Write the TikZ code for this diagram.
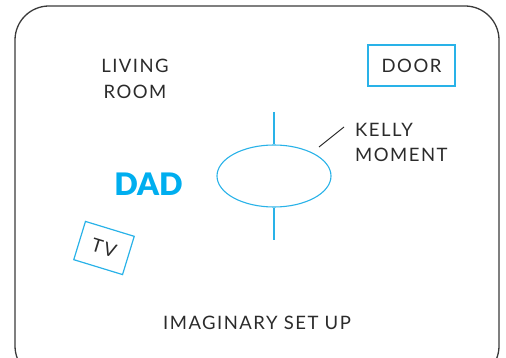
\documentclass[tikz,border=0pt]{standalone}
\usepackage{fontspec}
\usetikzlibrary{shapes.geometric}
\setmainfont{Lato}
\newfontfamily\labelfont[LetterSpace=8]{Lato}
\newfontfamily\dadfont{Lato Black}
\definecolor{cyanline}{HTML}{29B2E8}
\definecolor{dadblue}{HTML}{00AEEF}
\definecolor{framegray}{HTML}{3A3A3A}
\definecolor{textgray}{HTML}{2B2B2B}
\begin{document}
\begin{tikzpicture}[x=1pt,y=-1pt,
  lbl/.style={font=\labelfont\fontsize{18.5}{25.5}\selectfont, text=textgray, align=center, inner sep=0pt},
  bluebox/.style={draw=cyanline, line width=1.2pt},
  blueline/.style={draw=cyanline, line width=1.1pt}]
\useasboundingbox (0,0) rectangle (506,358);
\draw[framegray, line width=1.3pt, rounded corners=34pt] (15,6) rectangle (499,380);
\node[lbl] (living) at (135,79) {LIVING\\ROOM};
\node[lbl, bluebox, minimum width=87pt, minimum height=41pt] (door) at (411.5,65.5) {DOOR};
\node[lbl, align=left, anchor=west] (kelly) at (355,142.5) {KELLY\\MOMENT};
\coordinate (slashA) at (319,147);
\coordinate (slashB) at (344,127);
\draw[textgray, line width=1pt] (slashA) -- (slashB);
\node[draw=cyanline, line width=1.1pt, ellipse, minimum width=114pt, minimum height=62pt, inner sep=0pt] (table) at (274,176) {};
\coordinate (topend) at (274,112);
\coordinate (botend) at (274,240);
\draw[blueline] (topend) -- (table.north);
\draw[blueline] (table.south) -- (botend);
\node[font=\dadfont\fontsize{31}{31}\selectfont, text=dadblue, inner sep=0pt] (dad) at (148.5,184) {DAD};
\node[lbl, bluebox, rotate=-17, minimum width=51pt, minimum height=40pt] (tv) at (104,248) {TV};
\node[lbl] (setup) at (257,323) {IMAGINARY SET UP};
\end{tikzpicture}
\end{document}
